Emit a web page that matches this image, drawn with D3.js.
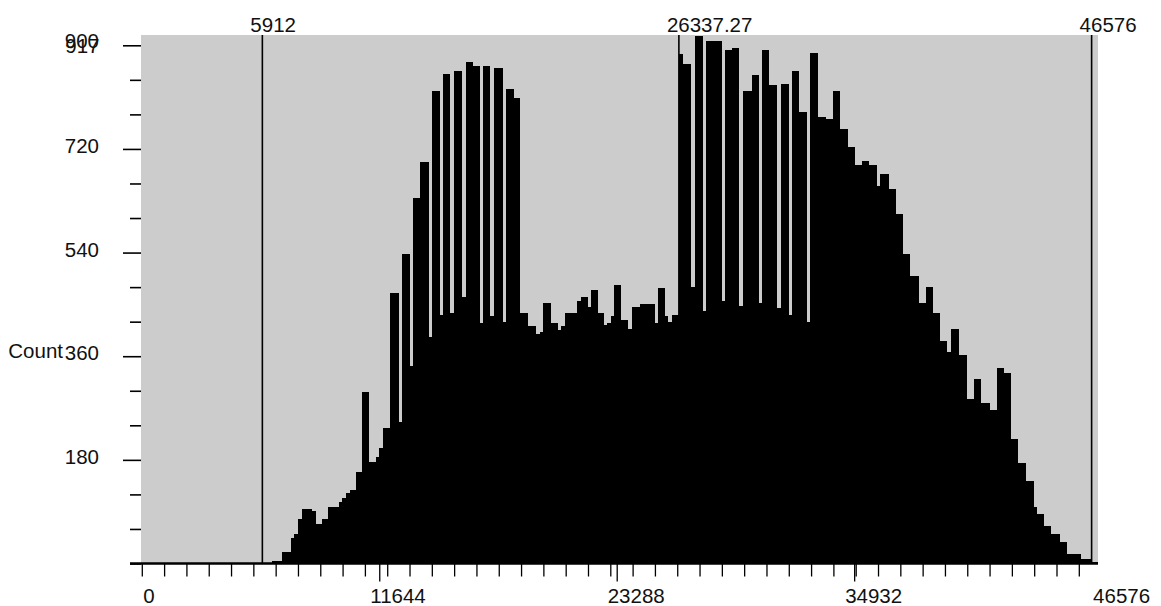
<!DOCTYPE html>
<html><head><meta charset="utf-8">
<script src="https://cdn.jsdelivr.net/npm/d3@7"></script>
<style>
body{margin:0;background:#fff;}
text{font-family:"Liberation Sans",Arial,sans-serif;font-size:20.5px;fill:#111;}
</style>
</head><body>
<svg id="c" width="1161" height="606"></svg>
<script>
// ---- data ----
const binEdges = [
 5912, 6378, 6868, 7308, 7474, 7670, 7846, 8336, 8532, 8860,
 9139, 9677, 9839, 10000, 10196, 10524, 10783, 11146, 11469, 11635,
 11831, 12173, 12614, 12761, 13118, 13299, 13656, 14063, 14244, 14601,
 14768, 15091, 15287, 15698, 15874, 16236, 16559, 16755, 17083, 17279,
 17685, 17866, 18223, 18551, 18909, 19334, 19516, 19677, 20035, 20377,
 20543, 20739, 21341, 21523, 21846, 22041, 22369, 22648, 22810, 22991,
 23152, 23480, 23838, 24033, 24440, 25145, 25306, 25664, 25796, 25991,
 26337, 26545, 26921, 27132, 27494, 27656, 28424, 28601, 28963, 29286,
 29482, 29907, 30235, 30431, 30754, 31116, 31361, 31733, 31900, 32223,
 32585, 32761, 33153, 33515, 33872, 34215, 34621, 34983, 35340, 35668,
 36041, 36207, 36613, 36971, 37313, 37676, 38116, 38459, 38782, 39144,
 39467, 39682, 40054, 40431, 40788, 41116, 41572, 41934, 42257, 42600,
 42962, 43368, 43726, 43906, 44234, 44592, 45032, 45375, 46060, 46576,
 46850
];
const counts = [
 0, 5, 20, 45, 51, 78, 95, 92, 69, 78,
 98, 107, 113, 122, 128, 159, 297, 177, 185, 201,
 235, 469, 245, 538, 343, 634, 698, 393, 821, 432,
 851, 435, 855, 463, 871, 864, 417, 864, 430, 861,
 420, 824, 808, 435, 413, 399, 402, 453, 417, 405,
 413, 435, 456, 463, 445, 475, 435, 414, 417, 429,
 484, 423, 408, 445, 450, 417, 478, 429, 420, 432,
 885, 867, 481, 917, 438, 907, 456, 891, 895, 447,
 821, 849, 453, 891, 831, 444, 833, 432, 855, 784,
 419, 886, 775, 772, 821, 754, 723, 692, 699, 692,
 656, 677, 650, 607, 538, 499, 453, 481, 435, 387,
 368, 407, 362, 285, 321, 279, 267, 340, 330, 217,
 175, 144, 98, 86, 65, 51, 37, 16, 7, 2
];
const markerValues = [5912, 26337.27, 46576];
const markerLabels = ["5912", "26337.27", "46576"];
const xTickValues = [0, 11644, 23288, 34932, 46576];
const xTickLabels = ["0", "11644", "23288", "34932", "46576"];
const yTickValues = [180, 360, 540, 720, 900];
const yTickLabels = ["180", "360", "540", "720", "900"];
const yMaxLabel = "917";
const yTitle = "Count";
const xMax = 46850;
const yMax = 917;
const minorXStep = 1094;
const minorYStep = 60;

// ---- drawing ----
const svg = d3.select("#c");
const x = d3.scaleLinear().domain([0, xMax]).range([141.8, 1097.2]);
const y = d3.scaleLinear().domain([0, yMax]).range([563.5, 35.5]);

svg.append("rect").attr("x", 141).attr("y", 35)
  .attr("width", 1098 - 141).attr("height", y(0) - 35).attr("fill", "#cccccc");

const bins = counts.map((c, i) => ({x0: binEdges[i], x1: binEdges[i + 1], c}));
svg.append("g").attr("shape-rendering", "crispEdges")
  .selectAll("rect").data(bins).join("rect")
  .attr("x", d => x(d.x0))
  .attr("width", d => x(d.x1) - x(d.x0) + 0.3)
  .attr("y", d => y(d.c))
  .attr("height", d => y(0) - y(d.c))
  .attr("fill", "#000");

// marker lines
svg.append("g").selectAll("line").data(markerValues).join("line")
  .attr("x1", d => x(d)).attr("x2", d => x(d))
  .attr("y1", 35).attr("y2", y(0))
  .attr("stroke", "#000").attr("stroke-width", 1.6);
svg.append("g").selectAll("text").data(markerValues).join("text")
  .attr("x", d => x(d) - 12).attr("y", 31.5)
  .text((d, i) => markerLabels[i]);

// baseline
svg.append("line").attr("x1", 130).attr("x2", 1098)
  .attr("y1", y(0)).attr("y2", y(0))
  .attr("stroke", "#000").attr("stroke-width", 2.5);

// x axis ticks (minor + major)
const minorX = d3.range(0, 46576, minorXStep);
const gxMinor = svg.append("g").attr("transform", `translate(0,${y(0)})`)
  .call(d3.axisBottom(x).tickValues(minorX).tickSize(13).tickFormat(""));
const gxMajor = svg.append("g").attr("transform", `translate(0,${y(0)})`)
  .call(d3.axisBottom(x).tickValues(xTickValues.slice(1, 4)).tickSize(18).tickFormat(""));
[gxMinor, gxMajor].forEach(g => {
  g.select(".domain").remove();
  g.selectAll("line").attr("stroke", "#000").attr("stroke-width", 1.3);
});
svg.append("g").selectAll("text").data(xTickValues).join("text")
  .attr("x", (d, i) => (i === 0 || i === xTickValues.length - 1) ? x(d) + 1.5 : x(d) - 9)
  .attr("y", 602.5)
  .text((d, i) => xTickLabels[i]);

// y axis ticks
const minorY = d3.range(0, 900 + 1, minorYStep).filter(v => !yTickValues.includes(v));
const gyMinor = svg.append("g").attr("transform", "translate(141,0)")
  .call(d3.axisLeft(y).tickValues(minorY).tickSize(11).tickFormat(""));
const gyMajor = svg.append("g").attr("transform", "translate(141,0)")
  .call(d3.axisLeft(y).tickValues(yTickValues).tickSize(18).tickPadding(24)
        .tickFormat((d, i) => yTickLabels[i]));
[gyMinor, gyMajor].forEach(g => {
  g.select(".domain").remove();
  g.selectAll("line").attr("stroke", "#000").attr("stroke-width", 1.6);
});
gyMajor.selectAll("text")
  .attr("dy", null).attr("dominant-baseline", null)
  .attr("y", d => d === 900 ? 2.4 : 3.7)
  .style("font-family", '"Liberation Sans",Arial,sans-serif')
  .style("font-size", "20.5px").style("fill", "#111");
gyMajor.attr("font-size", null).attr("font-family", null);

svg.append("text").attr("x", 99.5).attr("y", y(yMax) + 17)
  .attr("text-anchor", "end").text(yMaxLabel);
svg.append("text").attr("x", 63).attr("y", y(360) + 1.5)
  .attr("text-anchor", "end").text(yTitle);
</script>
</body></html>
